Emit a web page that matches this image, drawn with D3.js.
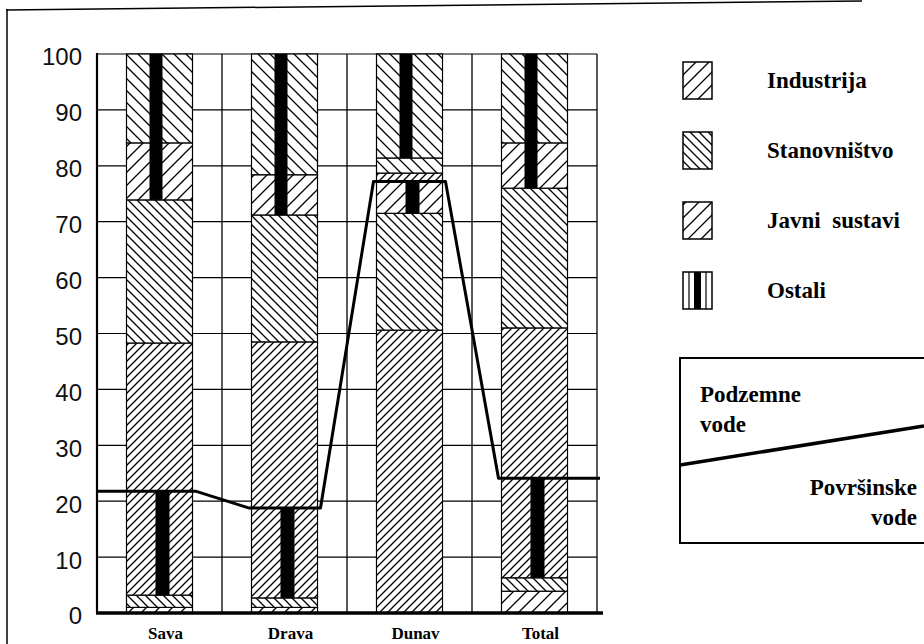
<!DOCTYPE html>
<html>
<head>
<meta charset="utf-8">
<script src="https://cdn.jsdelivr.net/npm/d3@7/dist/d3.min.js"></script>
<style>
  html, body { margin: 0; padding: 0; background: #fff; }
  svg { display: block; }
</style>
</head>
<body>
<svg id="chart"></svg>
<script>
// kategorije i oznake osi
const categories = ["Sava", "Drava", "Dunav", "Total"];
const yTicks = [0, 10, 20, 30, 40, 50, 60, 70, 80, 90, 100];

// granice segmenata (od dna prema vrhu, %) i uzorak svakog segmenta
const savaBounds  = [0, 1, 3.2, 21.8, 48.3, 73.9, 84.1, 100];
const savaFills   = ["javni", "stan", "ind", "ind", "stan", "javni", "top"];
const dravaBounds = [0, 1, 2.7, 18.8, 48.5, 71.2, 78.4, 100];
const dravaFills  = ["javni", "stan", "ind", "ind", "stan", "javni", "top"];
const dunavBounds = [0, 50.6, 71.5, 77.2, 78.7, 81.4, 100];
const dunavFills  = ["ind", "stan", "javni", "ind", "top", "top"];
const totalBounds = [0, 3.9, 6.3, 24.1, 51, 76, 84.1, 100];
const totalFills  = ["javni", "stan", "ind", "ind", "stan", "javni", "top"];

// crni stupci "Ostali"
const ostaliLowFrom  = [3.2, 2.7, 71.5, 6.3];
const ostaliLowTo    = [21.8, 18.8, 77.2, 24.1];
const ostaliHighFrom = [73.9, 71.2, 81.4, 76];
const ostaliHighTo   = [100, 100, 100, 100];

// granica podzemne / površinske vode
const lineValues = [21.8, 18.8, 77.2, 24.1];

// legenda
const legendLabels = ["Industrija", "Stanovništvo", "Javni  sustavi", "Ostali"];
const legendFills  = ["javni", "stan", "javni", "ostali"];

const allBounds = [savaBounds, dravaBounds, dunavBounds, totalBounds];
const allFills  = [savaFills, dravaFills, dunavFills, totalFills];

const width = 924, height = 644;
const svg = d3.select("#chart").attr("width", width).attr("height", height);

// uzorci šrafure
const defs = svg.append("defs");
function hatch(id, s, dir) {
    const p = defs.append("pattern")
        .attr("id", id)
        .attr("patternUnits", "userSpaceOnUse")
        .attr("width", s).attr("height", s);
    p.append("rect").attr("width", s).attr("height", s).attr("fill", "#fff");
    const d = dir === "/"
        ? `M0,${s} L${s},0 M-1,1 L1,-1 M${s - 1},${s + 1} L${s + 1},${s - 1}`
        : `M0,0 L${s},${s} M-1,${s - 1} L1,${s + 1} M${s - 1},-1 L${s + 1},1`;
    p.append("path").attr("d", d).attr("stroke", "#000").attr("stroke-width", 1.3);
}
hatch("ind", 8, "/");
hatch("stan", 9, "\\");
hatch("javni", 13, "/");
hatch("top", 12, "\\");

const x = d3.scaleBand().domain(categories).range([97, 597]).padding(0);
const y = d3.scaleLinear().domain([0, 100]).range([613, 54]);
const barW = 66;
const barX = c => x(c) + (x.step() - barW) / 2;

// vanjski okvir skena
svg.append("line").attr("x1", 6).attr("y1", 10).attr("x2", 862).attr("y2", 1)
    .attr("stroke", "#000").attr("stroke-width", 1.5);
svg.append("line").attr("x1", 7).attr("y1", 9).attr("x2", 7).attr("y2", height)
    .attr("stroke", "#000").attr("stroke-width", 1.5);

// mreža
svg.append("g")
    .selectAll("line")
    .data(yTicks.filter(t => t > 0))
    .enter().append("line")
    .attr("x1", x.range()[0]).attr("x2", x.range()[1])
    .attr("y1", d => y(d)).attr("y2", d => y(d))
    .attr("stroke", "#000").attr("stroke-width", 1.2);

svg.append("g")
    .selectAll("line")
    .data(categories.slice(1).map(c => x(c)).concat([x.range()[1]]))
    .enter().append("line")
    .attr("x1", d => d).attr("x2", d => d)
    .attr("y1", y(100)).attr("y2", y(0))
    .attr("stroke", "#000").attr("stroke-width", 1.3);

// stupci
categories.forEach((c, i) => {
    const b = allBounds[i], f = allFills[i];
    const g = svg.append("g");
    f.forEach((key, j) => {
        g.append("rect")
            .attr("x", barX(c))
            .attr("y", y(b[j + 1]))
            .attr("width", barW)
            .attr("height", y(b[j]) - y(b[j + 1]))
            .attr("fill", `url(#${key})`)
            .attr("stroke", "#000")
            .attr("stroke-width", 1.2);
    });
    // Ostali
    g.append("rect")
        .attr("x", barX(c) + barW / 2 + 3 - 7)
        .attr("y", y(ostaliLowTo[i]))
        .attr("width", 14)
        .attr("height", y(ostaliLowFrom[i]) - y(ostaliLowTo[i]))
        .attr("fill", "#000");
    g.append("rect")
        .attr("x", barX(c) + barW / 2 - 3.5 - 6.5)
        .attr("y", y(ostaliHighTo[i]))
        .attr("width", 13)
        .attr("height", y(ostaliHighFrom[i]) - y(ostaliHighTo[i]))
        .attr("fill", "#000");
});

// linija podzemne / površinske vode
const linePts = [];
categories.forEach((c, i) => {
    const x0 = i === 0 ? x.range()[0] : barX(c) - 3;
    const x1 = i === categories.length - 1 ? x.range()[1] + 3 : barX(c) + barW + 3;
    linePts.push([x0, y(lineValues[i])], [x1, y(lineValues[i])]);
});
svg.append("path")
    .attr("d", d3.line()(linePts))
    .attr("fill", "none")
    .attr("stroke", "#000")
    .attr("stroke-width", 3)
    .attr("stroke-linejoin", "round");

// osi
svg.append("line").attr("x1", 97).attr("x2", 97).attr("y1", y(100) - 1).attr("y2", y(0))
    .attr("stroke", "#000").attr("stroke-width", 2.2);
svg.append("line").attr("x1", 96).attr("x2", x.range()[1] + 6).attr("y1", y(0)).attr("y2", y(0))
    .attr("stroke", "#000").attr("stroke-width", 3.5);

svg.append("g")
    .selectAll("text")
    .data(yTicks)
    .enter().append("text")
    .attr("x", 82)
    .attr("y", d => y(d) + 3)
    .attr("dy", "0.35em")
    .attr("text-anchor", "end")
    .style("font-family", "'Liberation Sans', Arial, sans-serif")
    .style("font-size", "24px")
    .attr("fill", "#111")
    .text(d => d);

svg.append("g")
    .selectAll("text")
    .data(categories)
    .enter().append("text")
    .attr("x", d => x(d) + x.step() / 2 + 6)
    .attr("y", 639)
    .attr("text-anchor", "middle")
    .style("font-family", "'Liberation Serif', 'Times New Roman', serif")
    .style("font-weight", "bold")
    .style("font-size", "17px")
    .text(d => d);

// legenda
const legend = svg.append("g").attr("transform", "translate(683, 62)");
legendLabels.forEach((lab, i) => {
    const gy = i * 70;
    if (legendFills[i] === "ostali") {
        legend.append("rect").attr("x", 0).attr("y", gy).attr("width", 29).attr("height", 37)
            .attr("fill", "#fff").attr("stroke", "#000").attr("stroke-width", 1.5);
        legend.append("line").attr("x1", 6).attr("x2", 6).attr("y1", gy).attr("y2", gy + 37)
            .attr("stroke", "#000").attr("stroke-width", 1.2);
        legend.append("line").attr("x1", 23).attr("x2", 23).attr("y1", gy).attr("y2", gy + 37)
            .attr("stroke", "#000").attr("stroke-width", 1.2);
        legend.append("rect").attr("x", 11).attr("y", gy).attr("width", 7).attr("height", 37)
            .attr("fill", "#000");
    } else {
        legend.append("rect").attr("x", 0).attr("y", gy).attr("width", 29).attr("height", 37)
            .attr("fill", `url(#${legendFills[i]})`)
            .attr("stroke", "#000").attr("stroke-width", 1.5);
    }
    legend.append("text")
        .attr("x", 84)
        .attr("y", gy + 26)
        .style("font-family", "'Liberation Serif', 'Times New Roman', serif")
        .style("font-weight", "bold")
        .style("font-size", "23px")
        .style("white-space", "pre")
        .text(lab);
});

// legenda izvora vode
const box = svg.append("g");
box.append("rect").attr("x", 680).attr("y", 358).attr("width", 270).attr("height", 185)
    .attr("fill", "none").attr("stroke", "#000").attr("stroke-width", 2);
box.append("line").attr("x1", 680).attr("y1", 465).attr("x2", 924).attr("y2", 426)
    .attr("stroke", "#000").attr("stroke-width", 3.5);
const serif = t => t.style("font-family", "'Liberation Serif', 'Times New Roman', serif")
    .style("font-weight", "bold").style("font-size", "23px");
box.append("text").attr("x", 700).attr("y", 402).call(serif).text("Podzemne");
box.append("text").attr("x", 700).attr("y", 432).call(serif).text("vode");
box.append("text").attr("x", 917).attr("y", 495).attr("text-anchor", "end").call(serif).text("Površinske");
box.append("text").attr("x", 917).attr("y", 525).attr("text-anchor", "end").call(serif).text("vode");
</script>
</body>
</html>
